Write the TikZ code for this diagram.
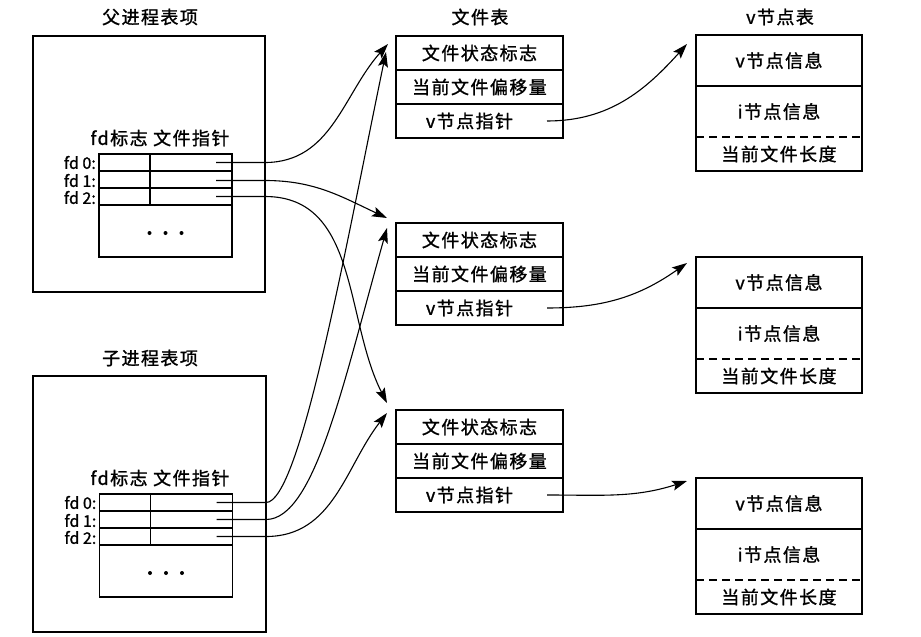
\documentclass[tikz,border=0pt]{standalone}
\usepackage{fontspec}
\setmainfont{Noto Sans CJK SC}[LetterSpace=8,FakeBold=1.2]
\newfontfamily\latinf{Noto Sans CJK SC}[FakeBold=1.2]
\usetikzlibrary{arrows.meta,calc}
\tikzset{
  box/.style={draw, line width=1.1pt, inner sep=0pt, outer sep=0pt},
  lbl/.style={font=\fontsize{18}{20}\selectfont, inner sep=0pt},
  fdl/.style={font=\latinf\fontsize{16}{17}\selectfont, inner sep=0pt, anchor=east},
  frow/.style={box, minimum width=167pt, minimum height=34pt},
  vtop/.style={box, minimum width=166pt, minimum height=51pt},
  vbot/.style={box, minimum width=166pt, minimum height=85pt},
  irow/.style={box, minimum width=133pt, minimum height=17pt},
  idots/.style={box, minimum width=133pt, minimum height=52pt},
  outer/.style={box},
  ptr/.style={line width=1.1pt, -{Stealth[length=15pt,width=10pt,inset=3pt]}},
}
\begin{document}
\begin{tikzpicture}[x=1pt,y=-1pt]
\useasboundingbox (0,0) rectangle (921,637);

% titles
\node[lbl] (tp) at (150,17) {父进程表项};
\node[lbl] (tc) at (150,358) {子进程表项};
\node[lbl] (tf) at (480,17) {文件表};
\node[lbl] (tv) at (780,17) {v节点表};

% parent process entry
\node[outer, minimum width=232pt, minimum height=256pt] (pout) at (149,164) {};
\node[lbl] (phead) at (160,138) {fd标志 文件指针};
\node[irow] (pr0) at (165.5,162.5) {};
\node[irow] (pr1) at (165.5,179.5) {};
\node[irow] (pr2) at (165.5,196.5) {};
\node[idots] (prd) at (165.5,231) {};
\draw[line width=1.1pt] ($(pr0.north west)+(51,0)$) -- ($(pr2.south west)+(51,0)$);
\foreach \d in {-16,0,16} \fill ($(prd.center)+(\d,2)$) circle (2pt);
\node[fdl] (pl0) at ($(pr0.west)+(-3,0)$) {fd 0:};
\node[fdl] (pl1) at ($(pr1.west)+(-3,1)$) {fd 1:};
\node[fdl] (pl2) at ($(pr2.west)+(-3,1)$) {fd 2:};

% child process entry
\node[outer, minimum width=233pt, minimum height=256pt] (cout) at (149.5,504) {};
\node[lbl] (chead) at (160,478) {fd标志 文件指针};
\node[irow] (cr0) at (166,502.5) {};
\node[irow] (cr1) at (166,519.5) {};
\node[irow] (cr2) at (166,536.5) {};
\node[idots] (crd) at (166,571) {};
\draw[line width=1.1pt] ($(cr0.north west)+(51,0)$) -- ($(cr2.south west)+(51,0)$);
\foreach \d in {-16,0,16} \fill ($(crd.center)+(\d,2)$) circle (2pt);
\node[fdl] (cl0) at ($(cr0.west)+(-3,0)$) {fd 0:};
\node[fdl] (cl1) at ($(cr1.west)+(-3,1)$) {fd 1:};
\node[fdl] (cl2) at ($(cr2.west)+(-3,1)$) {fd 2:};

% file tables
\foreach \i/\y in {1/36,2/223,3/410}{
  \node[frow] (fa\i) at (479.5,\y+17) {};
  \node[frow] (fb\i) at (479.5,\y+51) {};
  \node[frow] (fc\i) at (479.5,\y+85) {};
  \node[lbl] (fat\i) at (fa\i.center) {文件状态标志};
  \node[lbl] (fbt\i) at (fb\i.center) {当前文件偏移量};
  \node[lbl] (fct\i) at ($(fc\i.center)+(-10,0)$) {v节点指针};
}

% v-node tables
\foreach \i/\y in {1/35,2/257,3/478}{
  \node[vtop] (va\i) at (779,\y+25.5) {};
  \node[vbot] (vb\i) at (779,\y+93.5) {};
  \draw[line width=1.1pt, dash pattern=on 8pt off 5pt] ($(vb\i.north west)+(0,51)$) -- ($(vb\i.north east)+(0,51)$);
  \node[lbl] (vat\i) at (va\i.center) {v节点信息};
  \node[lbl] (vbt\i) at ($(vb\i.north)+(0,25.5)$) {i节点信息};
  \node[lbl] (vct\i) at ($(vb\i.north)+(0,68)$) {当前文件长度};
}

% pointer start coordinates
\coordinate (pp0) at ($(pr0.east)+(-16,0)$);
\coordinate (pp1) at ($(pr1.east)+(-16,1)$);
\coordinate (pp2) at ($(pr2.east)+(-16,0)$);
\coordinate (cp0) at ($(cr0.east)+(-16,0)$);
\coordinate (cp1) at ($(cr1.east)+(-16,0)$);
\coordinate (cp2) at ($(cr2.east)+(-16,0)$);
\coordinate (pe0) at (pp0 -| pout.east);
\coordinate (pe1) at (pp1 -| pout.east);
\coordinate (pe2) at (pp2 -| pout.east);
\coordinate (ce0) at (cp0 -| cout.east);
\coordinate (ce1) at (cp1 -| cout.east);
\coordinate (ce2) at (cp2 -| cout.east);

% targets
\coordinate (t1a) at ($(fa1.north west)+(-8,8)$);
\coordinate (t1b) at ($(fa1.north west)+(-10,16)$);
\coordinate (t2a) at ($(fa2.north west)+(-9,-5)$);
\coordinate (t2b) at ($(fa2.north west)+(-9,5)$);
\coordinate (t3a) at ($(fa3.north west)+(-9,-7)$);
\coordinate (t3b) at ($(fa3.north west)+(-9,3)$);

\draw[ptr] (pp0) -- (pe0) to[out=0,in=228] (t1a);
\draw[ptr] (pp1) -- (pe1) to[out=0,in=155] (t2a);
\draw[ptr] (pp2) -- (pe2) to[out=0,in=117] (t3a);
\draw[ptr] (cp0) -- (ce0) .. controls ($(ce0)+(34,0)$) and ($(t1b)+(-41,198)$) .. (t1b);
\draw[ptr] (cp1) -- (ce1) .. controls ($(ce1)+(49,0)$) and ($(t2b)+(-43,152)$) .. (t2b);
\draw[ptr] (cp2) -- (ce2) to[out=0,in=232] (t3b);

% file table -> v-node
\coordinate (vt1) at ($(va1.north west)+(-9,9)$);
\coordinate (vt2) at ($(va2.north west)+(-9,6)$);
\coordinate (vt3) at ($(va3.north west)+(-9,3)$);
\foreach \i/\a in {1/228,2/215,3/198}{
  \coordinate (fs\i) at ($(fc\i.east)+(-16,0)$);
  \draw[ptr] (fs\i) to[out=0,in=\a] (vt\i);
}
\end{tikzpicture}
\end{document}
